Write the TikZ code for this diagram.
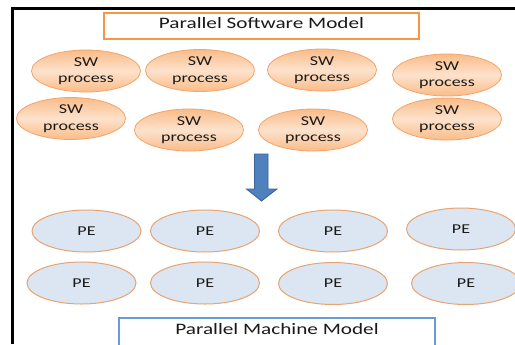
\documentclass[tikz,border=0pt]{standalone}
\usepackage{fontspec}
\setmainfont[FakeStretch=1.33]{Carlito}
\usetikzlibrary{shapes.geometric}

\definecolor{swborder}{HTML}{F4A46A}
\definecolor{swdark}{HTML}{F9BC88}
\definecolor{swlight}{HTML}{FDE2CC}
\definecolor{peborder}{HTML}{E8A470}
\definecolor{pefill}{HTML}{DCE6F2}
\definecolor{titleorange}{HTML}{F79646}
\definecolor{titleblue}{HTML}{6A9BD8}
\definecolor{arrowfill}{HTML}{4F81BD}
\definecolor{arrowedge}{HTML}{3A6296}
\definecolor{ink}{HTML}{1A1A1A}

\tikzset{
  swproc/.style={ellipse, draw=swborder, line width=0.8bp,
    top color=swdark, bottom color=swdark, middle color=swlight,
    minimum width=109bp, minimum height=42bp, inner sep=0pt,
    align=center, text=ink, font=\fontsize{13.6}{16.5}\selectfont},
  pe/.style={ellipse, draw=peborder, line width=1bp, fill=pefill,
    minimum width=109bp, minimum height=42bp, inner sep=0pt,
    text=ink, font=\fontsize{13.6}{16.5}\selectfont},
  titlebox/.style={rectangle, fill=white, inner sep=0pt, text=ink,
    font=\fontsize{16}{19}\selectfont}
}

\begin{document}
\begin{tikzpicture}[x=1bp, y=-1bp]
\useasboundingbox (0,0) rectangle (515,344);
\clip (0,0) rectangle (515,344);
\fill[white] (0,0) rectangle (515,344);

% outer frame (top and left edges)
\draw[line width=2.2bp, black] (12.5,344) -- (12.5,8.5) -- (515,8.5);

% software model title
\node[titlebox, draw=titleorange, line width=1.8bp,
      minimum width=315bp, minimum height=26bp,
      text height=10bp, text depth=6bp] (swtitle) at (261.5,26) {Parallel Software Model};

% software processes
\node[swproc] (s1) at (86,71)   {SW\\process};
\node[swproc] (s2) at (200,70.5){SW\\process};
\node[swproc] (s3) at (322,70)  {SW\\process};
\node[swproc] (s4) at (447,75)  {SW\\process};
\node[swproc] (s5) at (71,118.5){SW\\process};
\node[swproc] (s6) at (189,130) {SW\\process};
\node[swproc] (s7) at (313,130) {SW\\process};
\node[swproc] (s8) at (447,119) {SW\\process};

% mapping arrow
\filldraw[fill=arrowfill, draw=arrowedge, line width=0.8bp, line join=miter]
  (254.5,154) -- (268,154) -- (268,189) -- (277,189) -- (261.5,201)
  -- (246.5,189) -- (254.5,189) -- cycle;

% processing elements
\node[pe] (p1) at (86.5,231)  {PE};
\node[pe] (p2) at (205,231)   {PE};
\node[pe] (p3) at (333,231)   {PE};
\node[pe] (p4) at (461,229)   {PE};
\node[pe] (p5) at (81.5,283)  {PE};
\node[pe] (p6) at (205,283)   {PE};
\node[pe] (p7) at (333,283.5) {PE};
\node[pe] (p8) at (466,283.5) {PE};

% machine model title
\node[titlebox, draw=titleblue, line width=1.5bp,
      minimum width=316bp, minimum height=42bp,
      text height=10bp, text depth=20bp] (hwtitle) at (277,339) {Parallel Machine Model};
\end{tikzpicture}
\end{document}
